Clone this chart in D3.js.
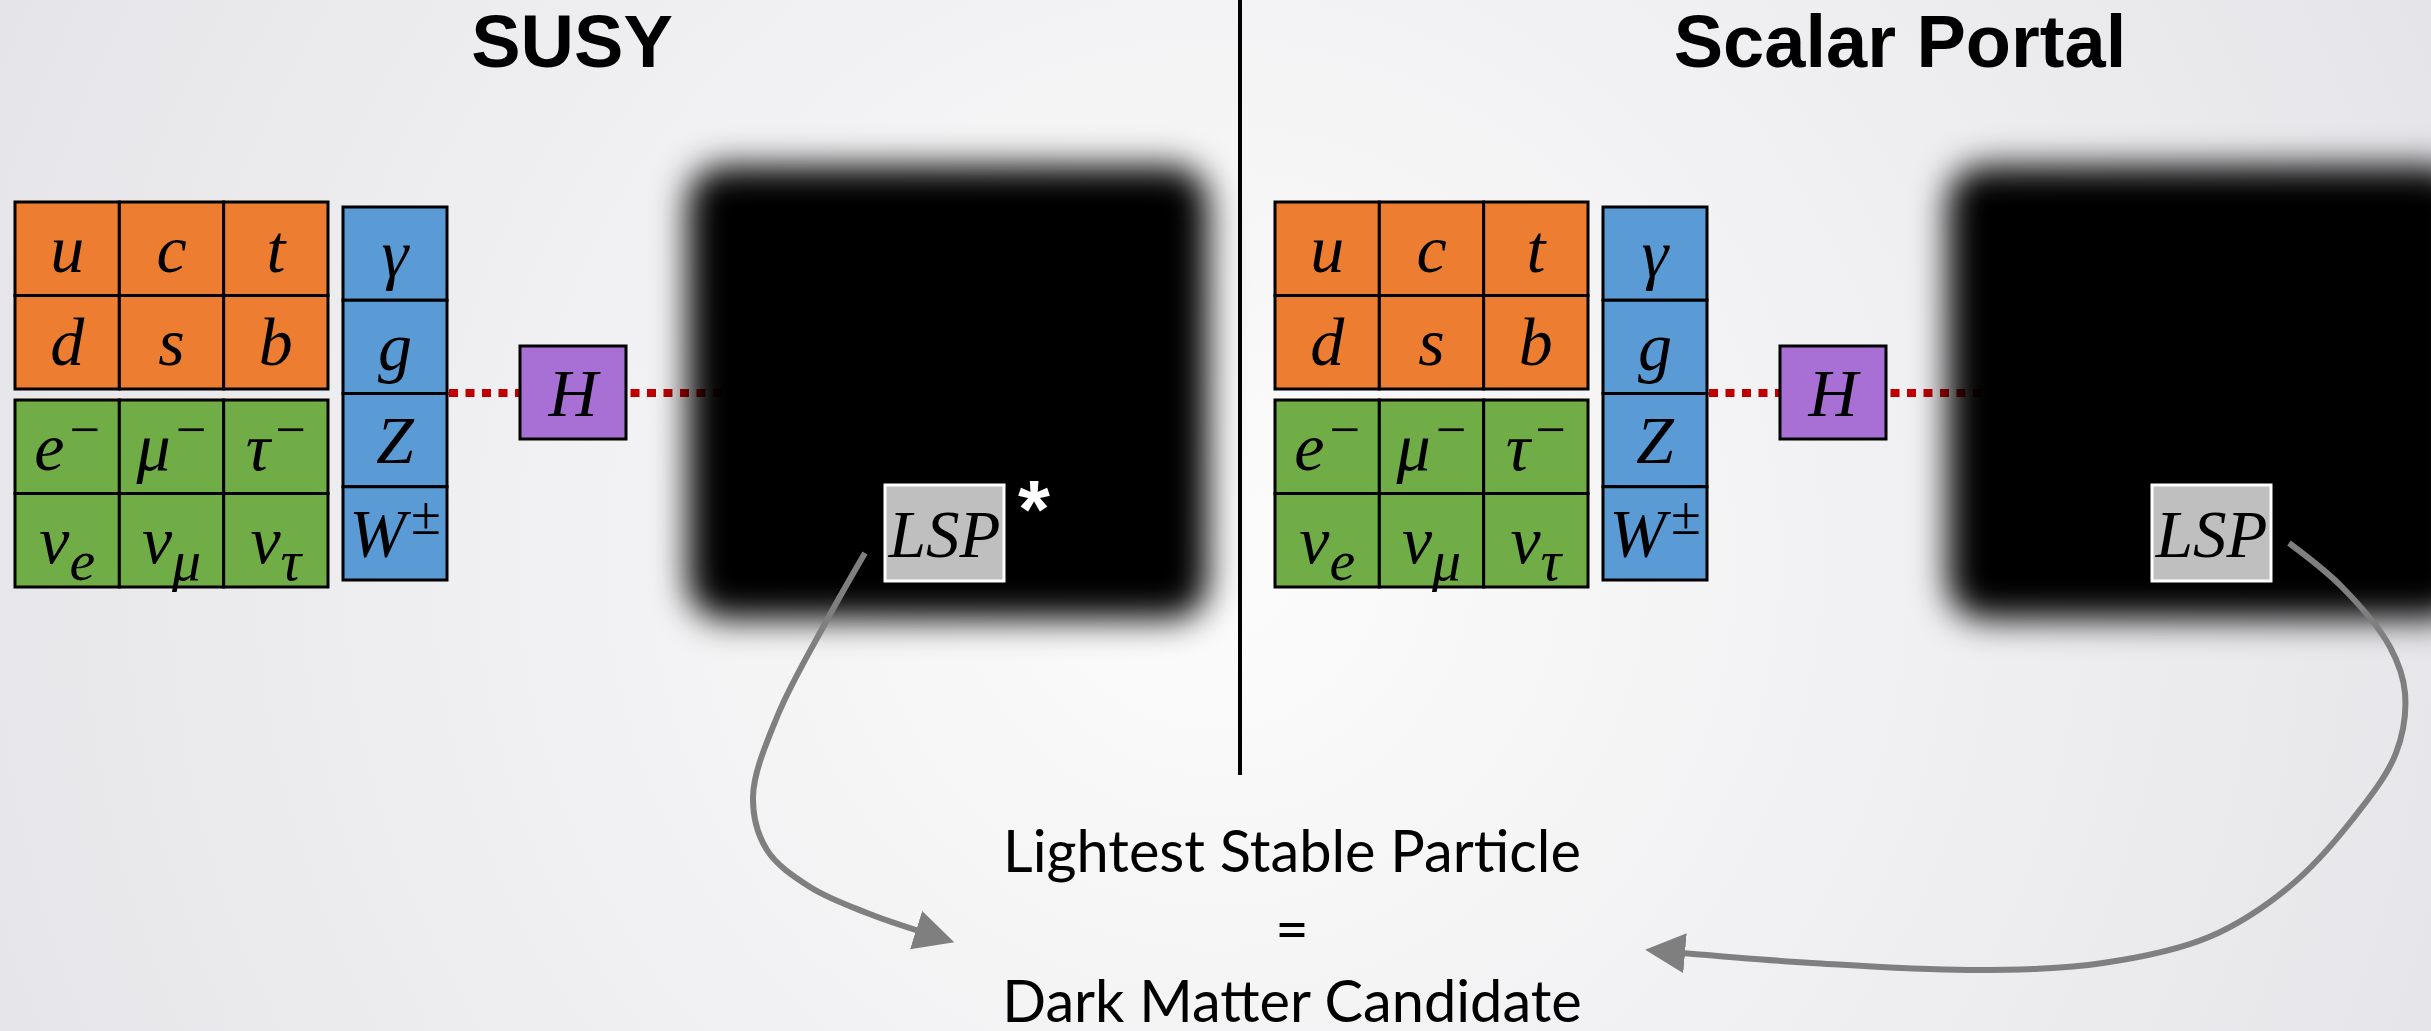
<!doctype html>
<html lang="en">
<head>
<meta charset="utf-8">
<title>SUSY vs Scalar Portal</title>
<style>
  html, body { margin: 0; padding: 0; background: #f2f2f4; overflow: hidden; }
  svg { display: block; }
</style>
</head>
<body>
<script src="https://cdnjs.cloudflare.com/ajax/libs/d3/7.8.5/d3.min.js"></script>
<script>

// ---- content ----
var panelTitles = ["SUSY", "Scalar Portal"];
// [base symbol, script, script kind]
var quarks  = [["u"], ["c"], ["t"], ["d"], ["s"], ["b"]];
var leptons = [["e", "\u2212", "sup"], ["\u03bc", "\u2212", "sup"], ["\u03c4", "\u2212", "sup"],
               ["\u03bd", "e", "sub"], ["\u03bd", "\u03bc", "sub"], ["\u03bd", "\u03c4", "sub"]];
var bosons  = [["\u03b3"], ["g"], ["Z"], ["W", "\u00b1", "sup"]];
var higgs   = ["H"];
var lspLabel = "LSP";
var lspMark  = ["*", ""];          // asterisk only on the SUSY side
var footerLines = ["Lightest Stable Particle", "=", "Dark Matter Candidate"];

// ---- layout ----
var w = 2431, h = 1031;
var panelX  = [0, 1260];
var titleX  = [572, 1900];
var lspLeft = [885, 892];          // relative to panel
var symSize = 68;

// curved arrow guide points (absolute)
var arrowLeft  = [[865,553],[827,620],[777,717],[753,797],[767,850],[810,887],[867,913],[919,931]];
var arrowRight = [[2289,543],[2342,587],[2390,647],[2405,693],[2396,753],[2352,820],[2289,887],
                  [2209,937],[2103,963],[1971,970],[1812,963],[1682,953]];

var svg = d3.select("body").append("svg")
    .attr("width", w)
    .attr("height", h);

var defs = svg.append("defs");

var bg = defs.append("radialGradient")
    .attr("id", "bg")
    .attr("gradientUnits", "userSpaceOnUse")
    .attr("cx", 1215).attr("cy", 560).attr("r", 1400);
bg.append("stop").attr("offset", 0).attr("stop-color", "#fcfcfc");
bg.append("stop").attr("offset", 1).attr("stop-color", "#e4e4e8");

defs.append("filter")
    .attr("id", "soft")
    .attr("x", "-20%").attr("y", "-20%")
    .attr("width", "140%").attr("height", "140%")
  .append("feGaussianBlur")
    .attr("stdDeviation", 17);

defs.append("marker")
    .attr("id", "head")
    .attr("markerUnits", "userSpaceOnUse")
    .attr("markerWidth", 46).attr("markerHeight", 44)
    .attr("refX", 3).attr("refY", 20)
    .attr("orient", "auto")
  .append("path")
    .attr("d", "M0,0 L40,20 L0,40 Z")
    .attr("fill", "#7f7f7f");

svg.append("rect")
    .attr("width", w).attr("height", h)
    .attr("fill", "url(#bg)");

// draws an italic math symbol with optional super/subscript
function symbol(g, d, x, y) {
    var t = g.append("text")
        .attr("x", x).attr("y", y)
        .attr("text-anchor", "middle")
        .style("font-family", "'Liberation Serif', 'DejaVu Serif', serif")
        .style("font-style", "italic")
        .style("font-size", symSize + "px")
        .attr("fill", "#000");
    t.append("tspan").text(d[0]);
    if (d[1]) {
        if (d[2] == "sup") {
            t.append("tspan")
                .attr("dx", 5).attr("dy", -22)
                .style("font-style", "normal")
                .style("font-size", (symSize * 0.8) + "px")
                .text(d[1]);
        } else {
            t.append("tspan")
                .attr("dy", 17)
                .style("font-size", (symSize * 0.85) + "px")
                .text(d[1]);
        }
    }
}

function grid(g, data, cols, x0, x1, y0, y1, fill) {
    var xs = d3.scaleBand().domain(d3.range(cols)).range([x0, x1]);
    var ys = d3.scaleBand().domain(d3.range(data.length / cols)).range([y0, y1]);
    data.forEach(function(d, i) {
        var c = i % cols, r = Math.floor(i / cols);
        g.append("rect")
            .attr("x", xs(c)).attr("y", ys(r))
            .attr("width", xs.bandwidth()).attr("height", ys.bandwidth())
            .attr("fill", fill)
            .attr("stroke", "#000").attr("stroke-width", 3);
    });
    data.forEach(function(d, i) {
        var c = i % cols, r = Math.floor(i / cols);
        symbol(g, d, xs(c) + xs.bandwidth() / 2, ys(r) + ys.bandwidth() / 2 + 23);
    });
}

panelTitles.forEach(function(title, p) {
    var g = svg.append("g").attr("transform", "translate(" + panelX[p] + ",0)");

    grid(g, quarks, 3, 15, 328, 202, 389, "#ed7d31");
    grid(g, leptons, 3, 15, 328, 400, 587, "#70ad47");
    grid(g, bosons, 1, 343, 447, 207, 580, "#5b9bd5");

    // Higgs portal line
    g.append("line")
        .attr("x1", 449).attr("x2", 820)
        .attr("y1", 393).attr("y2", 393)
        .attr("stroke", "#c00000").attr("stroke-width", 8)
        .attr("stroke-dasharray", "9 7.5");

    grid(g, higgs.map(function(s) { return [s]; }), 1, 520, 626, 346, 439, "#a870d4");

    // hidden sector (soft-edged black box)
    g.append("rect")
        .attr("x", 688).attr("y", 166)
        .attr("width", 520).attr("height", 453)
        .attr("rx", 36)
        .attr("fill", "#000")
        .attr("filter", "url(#soft)");

    var lx = lspLeft[p];
    g.append("rect")
        .attr("x", lx).attr("y", 485)
        .attr("width", 119).attr("height", 96)
        .attr("fill", "#bfbfbf")
        .attr("stroke", "#fff").attr("stroke-width", 3);
    g.append("text")
        .attr("x", lx + 59.5).attr("y", 557)
        .attr("text-anchor", "middle")
        .style("font-family", "'Liberation Serif', serif")
        .style("font-style", "italic")
        .style("font-size", "67px")
        .text(lspLabel);
    g.append("text")
        .attr("x", lx + 149).attr("y", 537)
        .attr("text-anchor", "middle")
        .style("font-family", "'Liberation Sans', Arial, sans-serif")
        .style("font-weight", "bold")
        .style("font-size", "82px")
        .attr("fill", "#fff")
        .text(lspMark[p]);

    svg.append("text")
        .attr("x", titleX[p]).attr("y", 67)
        .attr("text-anchor", "middle")
        .style("font-family", "'Liberation Sans', Arial, sans-serif")
        .style("font-weight", "bold")
        .style("font-size", "74px")
        .text(title);
});

// divider
svg.append("line")
    .attr("x1", 1240).attr("x2", 1240)
    .attr("y1", 0).attr("y2", 775)
    .attr("stroke", "#000").attr("stroke-width", 4);

// arrows to the candidate label
var curve = d3.line().curve(d3.curveCatmullRom.alpha(0.5));
[arrowLeft, arrowRight].forEach(function(pts) {
    svg.append("path")
        .attr("d", curve(pts))
        .attr("fill", "none")
        .attr("stroke", "#7f7f7f")
        .attr("stroke-width", 6)
        .attr("marker-end", "url(#head)");
});

// footer text, sized to the reference width
var foot = svg.append("g")
    .style("font-family", "Lato, 'Open Sans', sans-serif")
    .attr("fill", "#000");
var probe = foot.append("text").style("font-size", "60px").text(footerLines[0]);
var fs = 60 * 578 / probe.node().getComputedTextLength();
probe.remove();
var baselines = [872, 950, 1022];
footerLines.forEach(function(s, i) {
    foot.append("text")
        .attr("x", 1292).attr("y", baselines[i])
        .attr("text-anchor", "middle")
        .style("font-size", fs + "px")
        .text(s);
});

</script>
</body>
</html>
